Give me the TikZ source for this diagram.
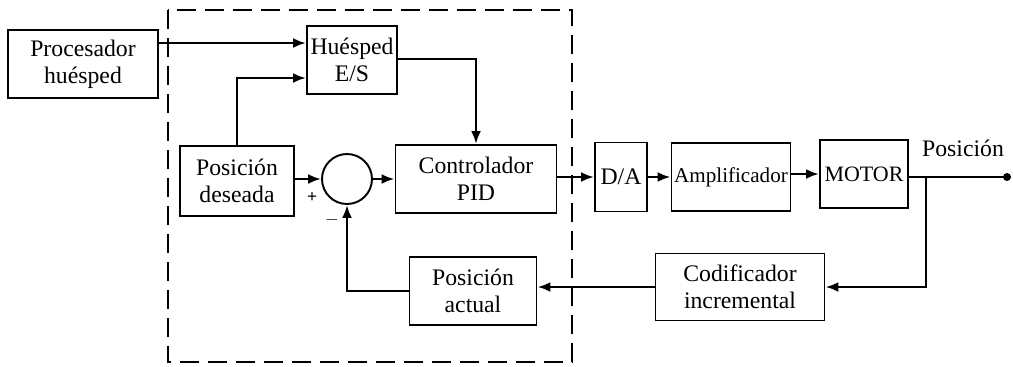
\documentclass[tikz,border=0pt]{standalone}
\usepackage{fontspec}
\setmainfont{Liberation Serif}
\usepackage{tikz}
\usetikzlibrary{positioning,arrows.meta}

\begin{document}
\begin{tikzpicture}[
    x=0.02cm, y=-0.02cm,
    block/.style={draw, line width=1.1pt, rectangle, minimum height=1.36cm, inner sep=1pt, align=center, font=\fontsize{13.5}{15.5}\selectfont},
    sumnode/.style={draw, line width=1.1pt, circle, minimum size=1.0cm, inner sep=0pt},
    lbl/.style={font=\fontsize{13.5}{15.5}\selectfont},
    wire/.style={line width=1.5pt},
    >={Latex[length=2.6mm, width=2.0mm]}
  ]
    \useasboundingbox (0,0) rectangle (1013,366);

    % controller boundary
    \draw[line width=1.0pt, dash pattern=on 0.38cm off 0.18cm] (168,10) rectangle (572,362);

    \node[block, minimum width=3.0cm] (proc) at (83,64) {Procesador\\hu\'esped};
    \node[block, minimum width=1.8cm] (hues) at (352,60) {Hu\'esped\\E/S};
    \node[block, minimum width=2.28cm, minimum height=1.4cm] (des) at (237,181) {Posici\'on\\deseada};
    \node[sumnode] (sum) at (347,179) {};
    \node[block, minimum width=3.22cm] (pid) at (476,179) {Controlador\\PID};
    \node[block, minimum width=1.04cm, minimum height=1.38cm] (da) at (621,177) {D/A};
    \node[block, minimum width=2.38cm, font=\fontsize{12}{14}\selectfont] (amp) at (731,177) {Amplificador};
    \node[block, minimum width=1.76cm, font=\fontsize{12.5}{14}\selectfont] (mot) at (864,174) {MOTOR};
    \node[block, minimum width=3.38cm, minimum height=1.34cm] (cod) at (740,287) {Codificador\\incremental};
    \node[block, minimum width=2.54cm] (act) at (473,291) {Posici\'on\\actual};

    \coordinate (br) at (926,177);
    \coordinate (out) at (1007,177);

    % forward path
    \draw[wire, ->] ([yshift=0.42cm]proc.east) -- ([yshift=0.42cm]proc.east -| hues.west);
    \draw[wire, ->] (des.north) |- ([yshift=-0.36cm]hues.west);
    \draw[wire, ->] ([yshift=0.02cm]hues.east) -| (pid.north);
    \draw[wire, ->] (des.east |- sum.west) -- (sum.west);
    \draw[wire, ->] (sum.east) -- (sum.east -| pid.west);
    \draw[wire, ->] (pid.east |- da.west) -- (da.west);
    \draw[wire, ->] (da.east) -- (da.east -| amp.west);
    \draw[wire, ->] (amp.east |- mot.west) -- (mot.west);
    \draw[wire] (mot.east |- out) -- (out);
    \fill (out) circle (4);
    \node[lbl] (pos) at (963,148) {Posici\'on};

    % feedback path
    \draw[wire, ->] (br) |- (cod.east);
    \draw[wire, ->] (cod.west) -- (cod.west -| act.east);
    \draw[wire, ->] (act.west) -| (sum.south);

    \node[font=\bfseries] (plus) at (312,198) {+};
    \node (minus) at (332,220) {$-$};
\end{tikzpicture}
\end{document}
